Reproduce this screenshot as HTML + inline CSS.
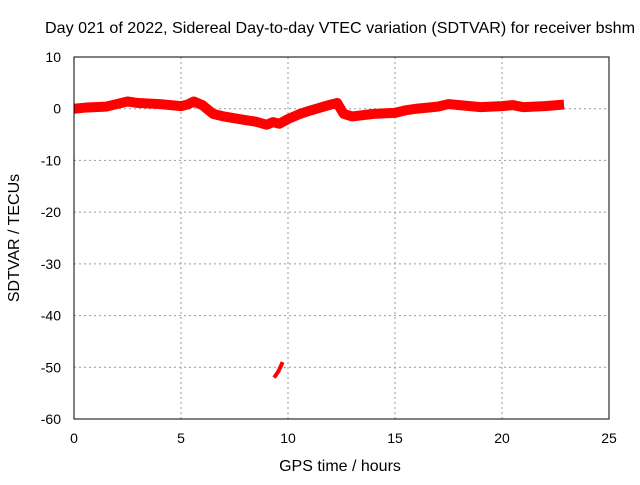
<!DOCTYPE html>
<html><head><meta charset="utf-8"><style>
body{margin:0;background:#fff}
svg text{font-family:"Liberation Sans",sans-serif;font-size:14px;fill:#000}
svg text.big{font-size:16px}
</style></head><body>
<svg id="chart" width="640" height="480" xmlns="http://www.w3.org/2000/svg">
<text class="big" x="340" y="33" text-anchor="middle" textLength="590" lengthAdjust="spacingAndGlyphs">Day 021 of 2022, Sidereal Day-to-day VTEC variation (SDTVAR) for receiver bshm</text>
<g id="grid"></g>
<g id="ticks"></g>
<g id="series"></g>
<rect x="74" y="57" width="535" height="362" fill="none" stroke="#000" stroke-width="1"/>
<text class="big" x="340" y="471" text-anchor="middle">GPS time / hours</text>
<text class="big" transform="translate(19,238) rotate(-90)" text-anchor="middle">SDTVAR / TECUs</text>
</svg>
<script>
const xTicks=[0,5,10,15,20,25];
const yTicks=[10,0,-10,-20,-30,-40,-50,-60];
const mainHours=[0,0.5,1,1.5,2,2.5,3,4,5,5.3,5.6,6,6.5,7,8,8.5,9,9.3,9.6,10,10.5,11,11.5,12,12.3,12.6,13,14,15,15.5,16,17,17.5,18,19,20,20.5,21,22,22.9];
const mainValues=[0,0.2,0.3,0.4,0.9,1.4,1.1,0.9,0.5,0.8,1.4,0.7,-1,-1.5,-2.2,-2.5,-3.1,-2.6,-2.9,-2,-1.1,-0.4,0.2,0.8,1.1,-1,-1.5,-1,-0.8,-0.3,0,0.4,0.9,0.7,0.3,0.5,0.7,0.3,0.5,0.8];
const outHours=[9.35,9.55,9.75];
const outValues=[-52,-50.8,-49];
const NS="http://www.w3.org/2000/svg";
const X=h=>74+h*(535/25);
const Y=v=>57+(10-v)*(362/70);
const grid=document.getElementById('grid'),ticks=document.getElementById('ticks'),ser=document.getElementById('series');
function mk(tag,attrs,parent){const e=document.createElementNS(NS,tag);for(const k in attrs)e.setAttribute(k,attrs[k]);parent.appendChild(e);return e;}
xTicks.forEach(t=>{
 if(t>0&&t<25){const g=mk('line',{x1:X(t),x2:X(t),y1:57,y2:419,stroke:'#999','stroke-dasharray':'2,3'},grid);
 
 }
 const l=mk('text',{x:X(t),y:443,'text-anchor':'middle'},ticks);l.textContent=t;
 
 
});
yTicks.forEach(t=>{
 if(t<10&&t>-60){const g=mk('line',{x1:74,x2:609,y1:Y(t),y2:Y(t),stroke:'#999','stroke-dasharray':'2,3'},grid);
 
 }
 const l=mk('text',{x:61,y:Y(t)+5,'text-anchor':'end'},ticks);l.textContent=t;
 
 
});
const p1=mk('polyline',{points:mainHours.map((h,i)=>X(h)+','+Y(mainValues[i])).join(' '),fill:'none',stroke:'#f00','stroke-width':10,'stroke-linejoin':'round'},ser);


const p2=mk('polyline',{points:outHours.map((h,i)=>X(h)+','+Y(outValues[i])).join(' '),fill:'none',stroke:'#f00','stroke-width':4},ser);


</script>
</body></html>
